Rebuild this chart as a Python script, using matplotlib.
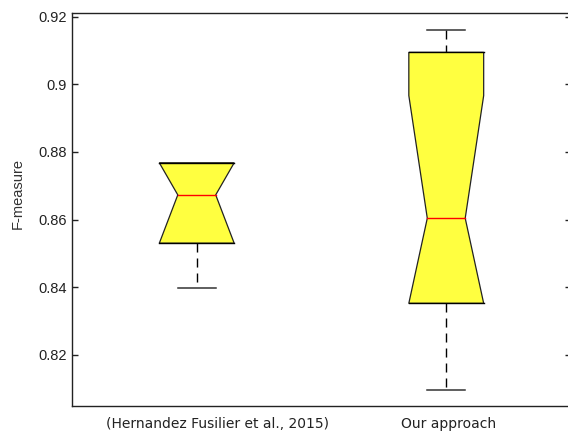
import matplotlib
matplotlib.use('Agg')

import matplotlib.pyplot as plt
import matplotlib.transforms as mtransforms
import numpy as np

# box statistics
labels = ['(Hernandez Fusilier et al., 2015)', 'Our approach']
positions = [1, 2]
q1 = [0.8530, 0.8352]
med = [0.8673, 0.8604]
q3 = [0.8768, 0.9095]
whislo = [0.8397, 0.8094]
whishi = [0.8768, 0.9160]
notch_lo = [0.8530, 0.8352]   # clamped at the hinges
notch_hi = [0.8768, 0.8967]

yticks = [0.82, 0.84, 0.86, 0.88, 0.90, 0.92]
ytick_labels = ['0.82', '0.84', '0.86', '0.88', '0.9', '0.92']

box_hw = 0.15      # half width of box
notch_hw = 0.076   # half width at the median
cap_hw = 0.076
label_shift = [21, 2]   # px, the labels are not centred under the boxes

fig = plt.figure(figsize=(5.68, 4.34), dpi=100)
ax = fig.add_axes([72 / 568, 1 - 406 / 434, (571 - 72) / 568, (406 - 12.5) / 434])

for i in range(len(positions)):
    x = positions[i]
    # outline of the notched box
    xs = [x - box_hw, x - box_hw, x - notch_hw, x - box_hw, x - box_hw,
          x + box_hw, x + box_hw, x + notch_hw, x + box_hw, x + box_hw]
    ys = [q1[i], notch_lo[i], med[i], notch_hi[i], q3[i],
          q3[i], notch_hi[i], med[i], notch_lo[i], q1[i]]
    ax.fill(xs, ys, facecolor='#ffff40', edgecolor='#222222', linewidth=0.9, zorder=2)
    ax.plot([x - box_hw, x + box_hw], [q3[i], q3[i]], color='black', lw=1.0, zorder=3)
    ax.plot([x - box_hw, x + box_hw], [q1[i], q1[i]], color='black', lw=1.0, zorder=3)
    # median
    ax.plot([x - notch_hw, x + notch_hw], [med[i], med[i]], color='red', lw=1.0, zorder=3)
    # whiskers
    if whishi[i] > q3[i]:
        ax.plot([x, x], [whishi[i], q3[i]], color='black', lw=1.0,
                dashes=(6.5, 4.3), zorder=1)
        ax.plot([x - cap_hw, x + cap_hw], [whishi[i], whishi[i]], color='#333333', lw=1.1)
    if whislo[i] < q1[i]:
        ax.plot([x, x], [q1[i], whislo[i]], color='black', lw=1.0,
                dashes=(6.5, 4.3), zorder=1)
        ax.plot([x - cap_hw, x + cap_hw], [whislo[i], whislo[i]], color='#333333', lw=1.1)

ax.set_xlim(0.5, 2.5)
ax.set_ylim(0.8048, 0.9213)

ax.set_yticks(yticks)
ax.set_yticklabels(ytick_labels, fontsize=10.5, family='Liberation Sans')
ax.tick_params(axis='y', direction='in', length=4, right=True, width=1, colors='#222222')

ax.set_xticks(positions)
ax.set_xticklabels(labels, fontsize=10, family='DejaVu Sans')
ax.tick_params(axis='x', length=0, pad=8, colors='#222222')
for lab, dx in zip(ax.get_xticklabels(), label_shift):
    offset = mtransforms.ScaledTranslation(dx / 100, 0, fig.dpi_scale_trans)
    lab.set_transform(lab.get_transform() + offset)

ax.set_ylabel('F-measure', fontsize=10.5, family='Liberation Sans', color='#333333')
ax.yaxis.set_label_coords(-0.094, 0.541)

for s in ax.spines.values():
    s.set_linewidth(1.0)
    s.set_color('#222222')

plt.savefig('out.png', dpi=100)
